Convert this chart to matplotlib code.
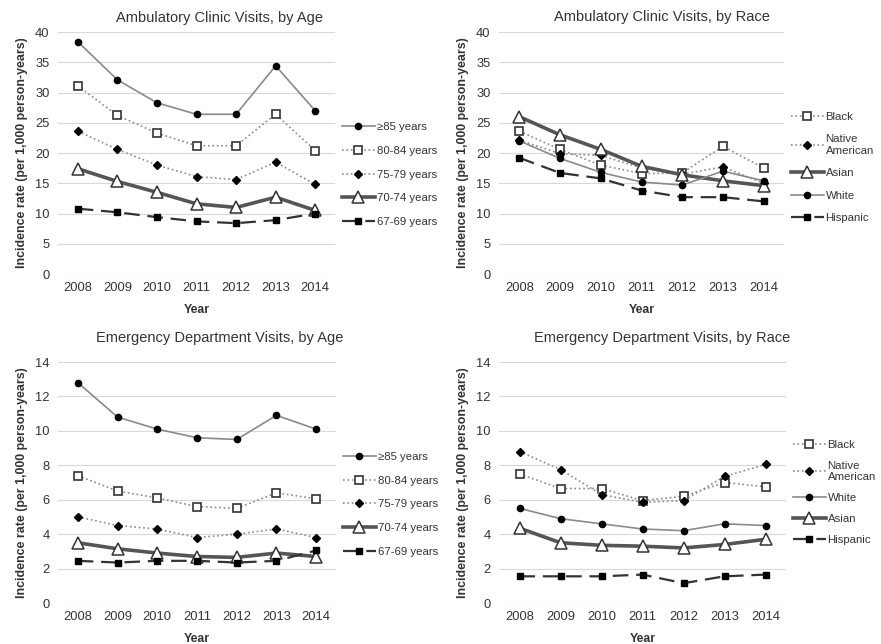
import matplotlib
matplotlib.use('Agg')
import matplotlib.pyplot as plt

plt.rcParams['font.family'] = ['Liberation Sans', 'DejaVu Sans']

years = ['2008', '2009', '2010', '2011', '2012', '2013', '2014']

# Ambulatory clinic visits, by age
amb_age_labels = ['≥85 years', '80-84 years', '75-79 years', '70-74 years', '67-69 years']
amb_85 = [38.4, 32.1, 28.3, 26.4, 26.4, 34.4, 27.0]
amb_80 = [31.1, 26.2, 23.3, 21.2, 21.2, 26.4, 20.4]
amb_75 = [23.6, 20.6, 18.0, 16.1, 15.6, 18.5, 14.8]
amb_70 = [17.4, 15.3, 13.5, 11.6, 11.0, 12.7, 10.5]
amb_67 = [10.8, 10.2, 9.4, 8.7, 8.4, 8.9, 10.0]

# Ambulatory clinic visits, by race
amb_race_labels = ['Black', 'Native\nAmerican', 'Asian', 'White', 'Hispanic']
amb_black = [23.6, 20.6, 18.0, 16.6, 16.7, 21.1, 17.5]
amb_native = [22.1, 19.9, 19.6, 17.5, 16.5, 17.7, 15.0]
amb_asian = [26.0, 23.0, 20.6, 17.8, 16.4, 15.4, 14.6]
amb_white = [22.0, 19.1, 16.8, 15.2, 14.7, 17.0, 15.4]
amb_hisp = [19.2, 16.7, 15.8, 13.8, 12.7, 12.7, 12.0]

# Emergency department visits, by age
ed_age_labels = amb_age_labels
ed_85 = [12.8, 10.8, 10.1, 9.6, 9.5, 10.9, 10.1]
ed_80 = [7.4, 6.5, 6.1, 5.6, 5.5, 6.4, 6.05]
ed_75 = [5.0, 4.5, 4.3, 3.8, 4.0, 4.3, 3.8]
ed_70 = [3.5, 3.15, 2.9, 2.7, 2.65, 2.9, 2.7]
ed_67 = [2.45, 2.35, 2.45, 2.45, 2.35, 2.45, 3.05]

# Emergency department visits, by race
ed_race_labels = ['Black', 'Native\nAmerican', 'White', 'Asian', 'Hispanic']
ed_black = [7.5, 6.65, 6.65, 5.95, 6.2, 7.0, 6.75]
ed_native = [8.8, 7.75, 6.3, 5.85, 5.95, 7.35, 8.05]
ed_white = [5.5, 4.9, 4.6, 4.3, 4.2, 4.6, 4.5]
ed_asian = [4.35, 3.5, 3.35, 3.3, 3.2, 3.4, 3.7]
ed_hisp = [1.55, 1.55, 1.55, 1.65, 1.15, 1.55, 1.65]

GRAY = '#8a8a8a'
TXT = '#333333'
styles = {
    'circle': dict(color=GRAY, lw=1.2, ls='-', marker='o', ms=4.5, mfc='black', mec='black'),
    'osquare': dict(color=GRAY, lw=1.2, ls=':', marker='s', ms=6, mfc='white', mec='#333333', mew=1.2),
    'diamond': dict(color=GRAY, lw=1.2, ls=':', marker='D', ms=4, mfc='black', mec='black'),
    'triangle': dict(color='#555555', lw=2.6, ls='-', marker='^', ms=8, mfc='white', mec='#333333', mew=1.1),
    'fsquare': dict(color='#333333', lw=1.6, ls=(0, (7, 3.5)), marker='s', ms=5, mfc='black', mec='black'),
}


def draw_panel(ax, series, labels, kinds, ymax, step, title, title_x, title_y, leg_y, leg_sp):
    x = range(len(years))
    for vals, lab, k in zip(series, labels, kinds):
        ax.plot(x, vals, label=lab, **styles[k])
    ax.set_xlim(-0.5, len(years) - 0.5)
    ax.set_ylim(0, ymax)
    ax.set_yticks(range(0, ymax + 1, step))
    ax.set_xticks(list(x))
    ax.set_xticklabels(years)
    ax.grid(axis='y', color='#d9d9d9', lw=0.8)
    ax.set_axisbelow(True)
    for s in ax.spines.values():
        s.set_visible(False)
    ax.tick_params(length=0, labelsize=9.3, labelcolor=TXT, pad=6)
    ax.set_xlabel('Year', fontsize=8.8, fontweight='bold', color=TXT, labelpad=7)
    ax.set_ylabel('Incidence rate (per 1,000 person-years)', fontsize=8.9,
                  fontweight='bold', color=TXT, labelpad=5)
    fig.text(title_x, title_y, title, ha='center', va='center', fontsize=10.5, color=TXT)
    ax.legend(loc='center left', bbox_to_anchor=(1.0, leg_y), frameon=False,
              handlelength=2.9, handletextpad=0.15, labelspacing=leg_sp,
              borderaxespad=0.2, fontsize=8.2, labelcolor=TXT)


fig = plt.figure(figsize=(8.81, 6.44), dpi=100)
W, H = 881, 644


def axes_at(x0, x1, ytop, ybot):
    return fig.add_axes([x0 / W, 1 - ybot / H, (x1 - x0) / W, (ybot - ytop) / H])


ax1 = axes_at(58, 335, 32, 274)
draw_panel(ax1, [amb_85, amb_80, amb_75, amb_70, amb_67], amb_age_labels,
           ['circle', 'osquare', 'diamond', 'triangle', 'fsquare'],
           40, 5, 'Ambulatory Clinic Visits, by Age', 220 / W, 1 - 18 / H, 0.41, 1.2)

ax2 = axes_at(499, 784, 32, 274)
draw_panel(ax2, [amb_black, amb_native, amb_asian, amb_white, amb_hisp], amb_race_labels,
           ['osquare', 'diamond', 'triangle', 'circle', 'fsquare'],
           40, 5, 'Ambulatory Clinic Visits, by Race', 662 / W, 1 - 17 / H, 0.44, 1.1)

ax3 = axes_at(58, 336, 362, 603)
draw_panel(ax3, [ed_85, ed_80, ed_75, ed_70, ed_67], ed_age_labels,
           ['circle', 'osquare', 'diamond', 'triangle', 'fsquare'],
           14, 2, 'Emergency Department Visits, by Age', 220 / W, 1 - 338 / H, 0.41, 1.2)

ax4 = axes_at(499, 786, 362, 603)
draw_panel(ax4, [ed_black, ed_native, ed_white, ed_asian, ed_hisp], ed_race_labels,
           ['osquare', 'diamond', 'circle', 'triangle', 'fsquare'],
           14, 2, 'Emergency Department Visits, by Race', 662 / W, 1 - 338 / H, 0.46, 0.95)

fig.savefig('out.png', dpi=100)
